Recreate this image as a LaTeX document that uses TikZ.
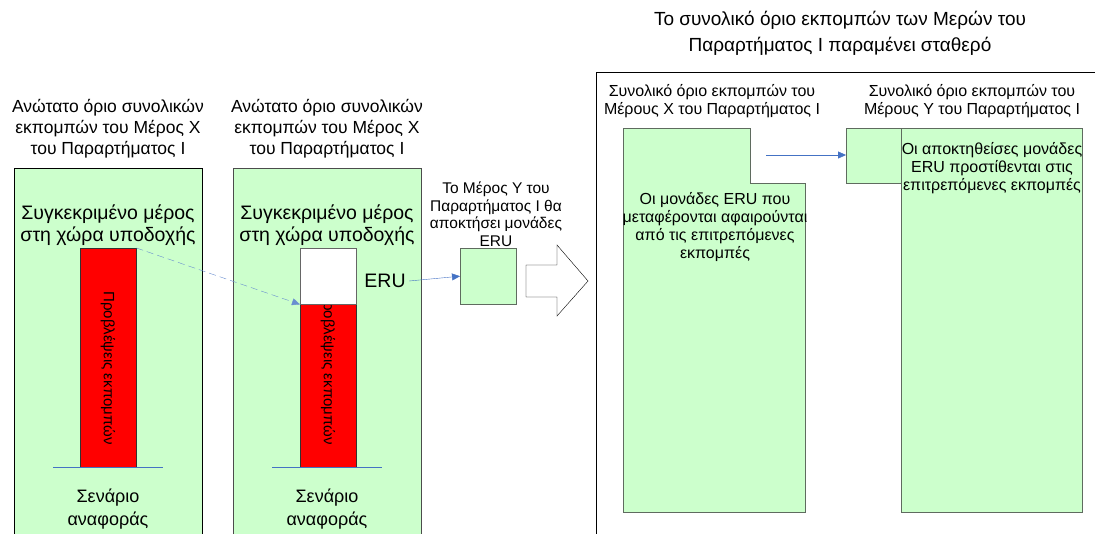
\documentclass[tikz,border=0pt]{standalone}
\usepackage{fontspec}
\setmainfont{Liberation Sans}
\usetikzlibrary{arrows.meta,positioning,calc}
\definecolor{paleGreen}{HTML}{CCFFCC}
\definecolor{erublue}{HTML}{4472C4}
\definecolor{boxgrey}{HTML}{5F6B5F}
\tikzset{
    panel/.style = {
        draw = black,
        fill = paleGreen,
        anchor = north west,
        minimum width = 188pt,
        minimum height = 400pt,
        inner sep = 0pt,
        },
    bar/.style = {
        draw = black!80,
        fill = red,
        anchor = north west,
        minimum width = 56pt,
        inner sep = 0pt,
        },
    gap/.style = {
        draw = black!60,
        fill = white,
        anchor = north west,
        minimum width = 56pt,
        minimum height = 56pt,
        inner sep = 0pt,
        },
    inner box/.style = {
        draw = boxgrey,
        fill = paleGreen,
        },
    head text/.style = {
        align = center,
        font = \fontsize{17.5}{21}\selectfont,
        },
    big text/.style = {
        align = center,
        font = \fontsize{19.5}{22}\selectfont,
        },
    small text/.style = {
        align = center,
        font = \fontsize{16}{18}\selectfont,
        },
    eru arrow/.style = {
        draw = erublue,
        -{Triangle[length=8pt,width=7pt]},
        },
}

\begin{document}
\begin{tikzpicture}[
                x=1pt, y=-1pt,
                base line/.style={draw=erublue},
                bar text/.style={rotate=-90, font=\fontsize{15}{17}\selectfont},
            ]
            \clip (0,0) rectangle (1095,533);

            % left panels
            \node [head text] (titleA) at (108,129) {Ανώτατο όριο συνολικών\\εκπομπών του Μέρος Χ\\του Παραρτήματος Ι};
            \node [panel] (panelA) at (14,168) {};
            \node [big text] (hostA) at (108,225) {Συγκεκριμένο μέρος\\στη χώρα υποδοχής};
            \node [bar, minimum height=219pt] (barA) at (80,248) {};
            \node [bar text] (projA) at (108,368) {Προβλέψεις εκπομπών};
            \node [big text, font=\fontsize{18}{23}\selectfont] (refA) at (108,509) {Σενάριο\\αναφοράς};
            \coordinate (lineAl) at (53,467);
            \coordinate (lineAr) at (163,467);
            \draw [base line] (lineAl) -- (lineAr);

            \node [head text] (titleB) at (327,129) {Ανώτατο όριο συνολικών\\εκπομπών του Μέρος Χ\\του Παραρτήματος Ι};
            \node [panel, draw=black!70] (panelB) at (233,168) {};
            \node [big text] (hostB) at (327,225) {Συγκεκριμένο μέρος\\στη χώρα υποδοχής};
            \node [bar, minimum height=163pt] (barB) at (300,304) {};
            \node [bar text] (projB) at (328,368) {Προβλέψεις εκπομπών};
            \node [gap] (gapB) at (300,248) {};
            \node [big text, font=\fontsize{18}{23}\selectfont] (refB) at (327,509) {Σενάριο\\αναφοράς};
            \coordinate (lineBl) at (272,467);
            \coordinate (lineBr) at (382,467);
            \draw [base line] (lineBl) -- (lineBr);

            \node [big text] (eru) at (385,281) {ERU};
            \node [inner box, minimum size=56pt, inner sep=0pt, anchor=north west] (buyer) at (460,248) {};
            \node [small text, font=\fontsize{15.5}{17.5}\selectfont] (buyerText) at (496,214) {Το Μέρος Υ του\\Παραρτήματος Ι θα\\αποκτήσει μονάδες\\ERU};

            % arrows
            \draw [eru arrow, dashed, dash pattern=on 7pt off 4pt, draw=erublue!80] (barA.north east) -- (gapB.south west);
            \draw [eru arrow] (eru.east) -- (buyer.west);

            % block arrow
            \draw [fill=white] (526,265) -- (557,265) -- (557,245) -- (588,281) -- (557,316) -- (557,297) -- (526,297) -- cycle;

            % right panel
            \node [head text, font=\fontsize{19}{26}\selectfont] (titleC) at (840,33) {Το συνολικό όριο εκπομπών των Μερών του\\Παραρτήματος Ι παραμένει σταθερό};
            \node [panel, minimum width=520pt, minimum height=500pt, fill=white] (panelC) at (596,72) {};
            \node [small text] (limitX) at (712,101) {Συνολικό όριο εκπομπών του\\Μέρους Χ του Παραρτήματος Ι};
            \node [small text] (limitY) at (972,101) {Συνολικό όριο εκπομπών του\\Μέρους Υ του Παραρτήματος Ι};
            \draw [inner box] (623,128) -- (750,128) -- (750,183) -- (805,183) -- (805,512) -- (623,512) -- cycle;
            \node [small text] (sellText) at (715,227) {Οι μονάδες ERU που\\μεταφέρονται αφαιρούνται\\από τις επιτρεπόμενες\\εκπομπές};
            \node [inner box, minimum size=55pt, inner sep=0pt, anchor=north west] (addY) at (846,128) {};
            \node [inner box, minimum width=181pt, minimum height=384pt, inner sep=0pt, anchor=north west] (boxY) at (901,128) {};
            \node [small text] (buyText) at (992,168) {Οι αποκτηθείσες μονάδες\\ERU προστίθενται στις\\επιτρεπόμενες εκπομπές};
            \coordinate (moveStart) at (766,155);
            \draw [eru arrow] (moveStart) -- (moveStart -| addY.west);
        \end{tikzpicture}
\end{document}
